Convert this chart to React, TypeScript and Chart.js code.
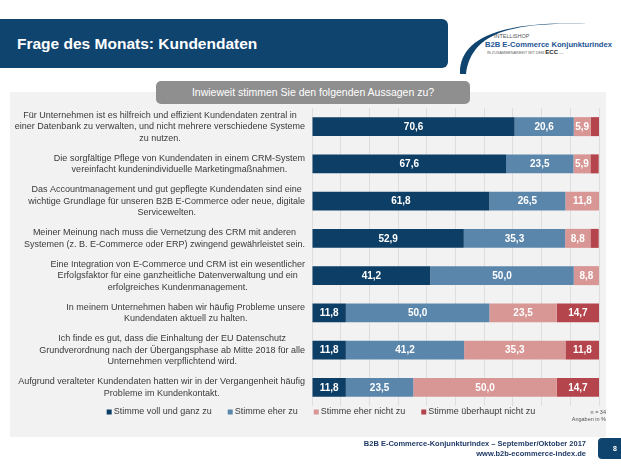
import React, { useEffect, useRef } from "react";
import { Chart, registerables } from "chart.js";

Chart.register(...registerables);

// ---------- data ----------
const categories: string[][] = [
  [
    "Für Unternehmen ist es hilfreich und effizient Kundendaten zentral in",
    "einer Datenbank zu verwalten, und nicht mehrere verschiedene Systeme",
    "zu nutzen.",
  ],
  [
    "Die sorgfältige Pflege von Kundendaten in einem CRM-System",
    "vereinfacht kundenindividuelle Marketingmaßnahmen.",
  ],
  [
    "Das Accountmanagement und gut gepflegte Kundendaten sind eine",
    "wichtige Grundlage für unseren B2B E-Commerce oder neue, digitale",
    "Servicewelten.",
  ],
  [
    "Meiner Meinung nach muss die Vernetzung des CRM mit anderen",
    "Systemen (z. B. E-Commerce oder ERP) zwingend gewährleistet sein.",
  ],
  [
    "Eine Integration von E-Commerce und CRM ist ein wesentlicher",
    "Erfolgsfaktor für eine ganzheitliche Datenverwaltung und ein",
    "erfolgreiches Kundenmanagement.",
  ],
  [
    "In meinem Unternehmen haben wir häufig Probleme unsere",
    "Kundendaten aktuell zu halten.",
  ],
  [
    "Ich finde es gut, dass die Einhaltung der EU Datenschutz",
    "Grundverordnung nach der Übergangsphase ab Mitte 2018 für alle",
    "Unternehmen verpflichtend wird.",
  ],
  [
    "Aufgrund veralteter Kundendaten hatten wir in der Vergangenheit häufig",
    "Probleme im Kundenkontakt.",
  ],
];

const seriesNames = [
  "Stimme voll und ganz zu",
  "Stimme eher zu",
  "Stimme eher nicht zu",
  "Stimme überhaupt nicht zu",
];

const vollUndGanz = [70.6, 67.6, 61.8, 52.9, 41.2, 11.8, 11.8, 11.8];
const eherZu = [20.6, 23.5, 26.5, 35.3, 50.0, 50.0, 41.2, 23.5];
const eherNicht = [5.9, 5.9, 11.8, 8.8, 8.8, 23.5, 35.3, 50.0];
const ueberhauptNicht = [2.9, 2.9, 0, 2.9, 0, 14.7, 11.8, 14.7];

const seriesValues = [vollUndGanz, eherZu, eherNicht, ueberhauptNicht];
const seriesColors = ["#0d3e66", "#5b86ac", "#d89695", "#b5454c"];

const titleText = "Frage des Monats: Kundendaten";
const questionText = "Inwieweit stimmen Sie den folgenden Aussagen zu?";
const sampleNote = ["n = 34", "Angaben in %"];
const footerLines = [
  "B2B E-Commerce-Konjunkturindex – September/Oktober 2017",
  "www.b2b-ecommerce-index.de",
];
const pageNumber = "8";

const FONT = '"Liberation Sans", Arial, sans-serif';

// ---------- plugins ----------
const categoryLabelPlugin = {
  id: "categoryLabels",
  afterDraw(chart: any) {
    const ctx = chart.ctx;
    const ys = chart.scales.y;
    ctx.save();
    ctx.font = `9px ${FONT}`;
    ctx.fillStyle = "#3a3a3a";
    ctx.textAlign = "center";
    ctx.textBaseline = "middle";
    const lineH = 11.5;
    categories.forEach((lines, i) => {
      const cy = ys.getPixelForValue(i);
      const widest = Math.max(...lines.map((l) => ctx.measureText(l).width));
      const cx = chart.chartArea.left - 7 - widest / 2;
      lines.forEach((l, k) => {
        ctx.fillText(l, cx, cy + (k - (lines.length - 1) / 2) * lineH);
      });
    });
    ctx.restore();
  },
};

const valueLabelPlugin = {
  id: "valueLabels",
  afterDatasetsDraw(chart: any) {
    const ctx = chart.ctx;
    ctx.save();
    ctx.font = `bold 10px ${FONT}`;
    ctx.fillStyle = "#ffffff";
    ctx.textAlign = "center";
    ctx.textBaseline = "middle";
    chart.data.datasets.forEach((ds: any, di: number) => {
      const meta = chart.getDatasetMeta(di);
      meta.data.forEach((el: any, i: number) => {
        const v = ds.data[i];
        if (v < 5) return;
        const p = el.getProps(["x", "y", "base"], true);
        ctx.fillText(v.toFixed(1).replace(".", ","), (p.x + p.base) / 2, p.y + 0.5);
      });
    });
    ctx.restore();
  },
};

const legendPlugin = {
  id: "bottomLegend",
  afterDraw(chart: any) {
    const ctx = chart.ctx;
    ctx.save();
    ctx.font = `9px ${FONT}`;
    ctx.textBaseline = "middle";
    ctx.textAlign = "left";
    const box = 5;
    const boxGap = 2;
    const gap = 16;
    const widths = seriesNames.map((n) => box + boxGap + ctx.measureText(n).width);
    const total = widths.reduce((a, b) => a + b, 0) + gap * (widths.length - 1);
    let x = chart.width / 2 + 13 - total / 2;
    const y = chart.chartArea.bottom + 6;
    seriesNames.forEach((n, i) => {
      ctx.fillStyle = seriesColors[i];
      ctx.fillRect(x, y - box / 2, box, box);
      ctx.fillStyle = "#3a3a3a";
      ctx.fillText(n, x + box + boxGap, y);
      x += widths[i] + gap;
    });
    ctx.restore();
  },
};

// ---------- component ----------
const App = () => {
  const ref = useRef<HTMLCanvasElement>(null);

  useEffect(() => {
    const canvas = ref.current;
    if (!canvas) return;
    const chart = new Chart(canvas, {
      type: "bar",
      data: {
        labels: categories.map((c) => c.join(" ")),
        datasets: seriesNames.map((name, i) => ({
          label: name,
          data: seriesValues[i],
          backgroundColor: seriesColors[i],
          borderWidth: 0,
          categoryPercentage: 1,
          barPercentage: 0.51,
        })),
      },
      options: {
        indexAxis: "y",
        responsive: false,
        animation: false,
        layout: { padding: { top: 16, bottom: 16, left: 0, right: 7 } },
        scales: {
          x: {
            stacked: true,
            min: 0,
            max: 100,
            ticks: { display: false, stepSize: 10 },
            grid: { color: "#dedede", drawTicks: false, lineWidth: 1 },
            border: { display: false },
          },
          y: {
            stacked: true,
            ticks: { display: false },
            grid: { display: false },
            border: { display: false },
            afterFit: (s: any) => {
              s.width = 302;
            },
          },
        },
        plugins: {
          legend: { display: false },
          tooltip: { enabled: false },
        },
      },
      plugins: [valueLabelPlugin, categoryLabelPlugin, legendPlugin],
    } as any);
    return () => chart.destroy();
  }, []);

  return (
    <div
      style={{
        position: "fixed",
        left: 0,
        top: 0,
        width: 621,
        height: 466,
        background: "#ffffff",
        overflow: "hidden",
        fontFamily: FONT,
      }}
    >
      {/* header bar */}
      <div
        style={{
          position: "absolute",
          left: 0,
          top: 19,
          width: 448,
          height: 49,
          background: "#0f446f",
          borderRadius: "0 6px 6px 0",
        }}
      />
      <div
        style={{
          position: "absolute",
          left: 17,
          top: 19,
          height: 49,
          lineHeight: "49px",
          color: "#ffffff",
          fontWeight: "bold",
          fontSize: 15.5,
          whiteSpace: "nowrap",
        }}
      >
        {titleText}
      </div>

      {/* logo */}
      <svg
        width={621}
        height={466}
        style={{ position: "absolute", left: 0, top: 0, pointerEvents: "none" }}
      >
        <path
          d="M460,74 C459,42 492,20 588,24 C505,21 471,36 466,74 Z"
          fill="#0f446f"
        />
        <text x={494} y={38} fontSize={5.5} fill="#555" fontFamily={FONT}>
          INTELLiSHOP
        </text>
        <text
          x={485}
          y={46.5}
          fontSize={7.6}
          fontWeight="bold"
          fill="#1d5595"
          fontFamily={FONT}
          textLength={127}
          lengthAdjust="spacingAndGlyphs"
        >
          B2B E-Commerce Konjunkturindex
        </text>
        <text x={487} y={54} fontSize={3.8} fill="#666" fontFamily={FONT}>
          IN ZUSAMMENARBEIT MIT DEM{" "}
          <tspan fontSize={6} fontWeight="bold" fill="#222">
            ECC
          </tspan>
          <tspan fontSize={5} fill="#444"> ...</tspan>
        </text>
      </svg>

      {/* grey panel */}
      <div
        style={{
          position: "absolute",
          left: 10,
          top: 92,
          width: 596,
          height: 345,
          background: "#f2f2f2",
        }}
      />

      {/* chart */}
      <canvas
        ref={ref}
        width={596}
        height={330}
        style={{ position: "absolute", left: 10, top: 92, width: 596, height: 330 }}
      />

      {/* question box */}
      <div
        style={{
          position: "absolute",
          left: 156,
          top: 81,
          width: 314,
          height: 23,
          background: "#8f8f8f",
          borderRadius: 5,
          color: "#ffffff",
          fontSize: 10.5,
          lineHeight: "23px",
          textAlign: "center",
        }}
      >
        {questionText}
      </div>

      {/* sample note */}
      <div
        style={{
          position: "absolute",
          right: 15,
          top: 409,
          fontSize: 5.5,
          lineHeight: "7px",
          color: "#555",
          textAlign: "right",
        }}
      >
        {sampleNote.map((t) => (
          <div key={t}>{t}</div>
        ))}
      </div>

      {/* footer */}
      <div
        style={{
          position: "absolute",
          right: 35,
          top: 439,
          fontSize: 7.5,
          lineHeight: "10px",
          fontWeight: "bold",
          color: "#1f3a66",
          textAlign: "right",
          whiteSpace: "nowrap",
        }}
      >
        {footerLines.map((t) => (
          <div key={t}>{t}</div>
        ))}
      </div>
      <div
        style={{
          position: "absolute",
          left: 598,
          top: 438,
          width: 34,
          height: 21,
          background: "#0f446f",
          borderRadius: 4,
          color: "#fff",
          fontSize: 7,
          fontWeight: "bold",
          lineHeight: "21px",
        }}
      >
        <span style={{ position: "absolute", left: 15 }}>{pageNumber}</span>
      </div>
    </div>
  );
};

export default App;
